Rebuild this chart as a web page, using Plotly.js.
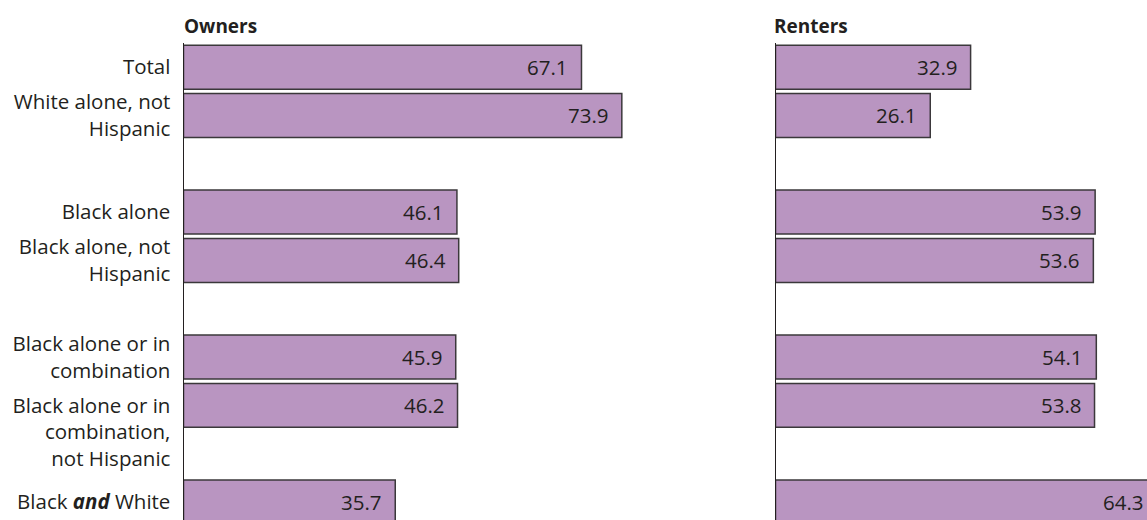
<!DOCTYPE html>
<html>
<head>
<meta charset="utf-8">
<script src="https://cdn.plot.ly/plotly-3.0.1.min.js"></script>
<style>
  html, body { margin: 0; padding: 0; overflow: hidden; background: #fff; }
  #chart { width: 1170px; height: 540px; }
</style>
</head>
<body>
<div id="chart"></div>
<script>
// ---- Data ----
const categories = [
  "Total",
  "White alone, not Hispanic",
  "Black alone",
  "Black alone, not Hispanic",
  "Black alone or in combination",
  "Black alone or in combination, not Hispanic",
  "Black and White"
];
const tickLabels = [
  "Total",
  "White alone, not<br>Hispanic",
  "Black alone",
  "Black alone, not<br>Hispanic",
  "Black alone or in<br>combination",
  "<br><br>Black alone or in<br>combination,<br>not Hispanic",
  "Black <b><i>and</i></b> White"
];
const groups = [[0, 1], [2, 3], [4, 5], [6]];
const owners  = [67.1, 73.9, 46.1, 46.4, 45.9, 46.2, 35.7];
const renters = [32.9, 26.1, 53.9, 53.6, 54.1, 53.8, 64.3];
const panelTitles = ["Owners", "Renters"];

// ---- Build category order with blank spacer rows between groups ----
const order = [];
groups.forEach((g, gi) => {
  g.forEach(i => order.push(categories[i]));
  if (gi < groups.length - 1) order.push(" ".repeat(gi + 1));
});

const FONT = "Open Sans, Noto Sans, sans-serif";
const TXT = "#231f20";
const BAR = "#b995c1";
const EDGE = "#3b383b";
const LABEL_SIZE = 20.5;
const VALUE_SIZE = 20.5;

function barTrace(vals, xa, ya) {
  return {
    type: "bar", orientation: "h",
    x: vals, y: categories,
    xaxis: xa, yaxis: ya,
    width: 0.91,
    marker: { color: BAR, line: { color: EDGE, width: 1.5 } },
    hoverinfo: "x+y",
    showlegend: false
  };
}

const data = [barTrace(owners, "x", "y"), barTrace(renters, "x2", "y2")];

const annotations = [];
[[owners, "x", "y"], [renters, "x2", "y2"]].forEach(([vals, xr, yr]) => {
  vals.forEach((v, i) => annotations.push({
    x: v, y: categories[i], xref: xr, yref: yr,
    text: v.toFixed(1), showarrow: false, xanchor: "right", yanchor: "middle",
    xshift: -11, font: { family: FONT, size: VALUE_SIZE, color: TXT }
  }));
});
panelTitles.forEach((t, i) => annotations.push({
  x: 0, xref: i === 0 ? "x domain" : "x2 domain", xanchor: "left", xshift: i === 0 ? -2 : -4,
  y: 1.035, yref: "paper", yanchor: "middle",
  text: "<b>" + t + "</b>", showarrow: false,
  font: { family: FONT, size: 19, color: TXT }
}));

const W = 1170;
const yCommon = {
  type: "category",
  categoryorder: "array",
  categoryarray: order,
  range: [9.6, -0.5],
  autorange: false,
  showgrid: false, zeroline: false,
  showline: true, linecolor: TXT, linewidth: 1,
  ticks: "", fixedrange: true
};

const layout = {
  width: W, height: 540,
  margin: { l: 0, r: 0, t: 43, b: 9 },
  paper_bgcolor: "#fff", plot_bgcolor: "#fff",
  font: { family: FONT, size: LABEL_SIZE, color: TXT },
  showlegend: false,
  bargap: 0,
  xaxis: {
    domain: [183.5 / W, 658 / W], range: [0, 80],
    showgrid: false, zeroline: false, showline: false, showticklabels: false, ticks: "", fixedrange: true
  },
  xaxis2: {
    domain: [775.5 / W, 1], range: [0, (W - 775.5) / 5.93],
    showgrid: false, zeroline: false, showline: false, showticklabels: false, ticks: "", fixedrange: true
  },
  yaxis: Object.assign({}, yCommon, {
    anchor: "x",
    tickmode: "array", tickvals: categories, ticktext: tickLabels,
    tickfont: { family: FONT, size: LABEL_SIZE, color: TXT },
    ticklabelstandoff: 8
  }),
  yaxis2: Object.assign({}, yCommon, {
    anchor: "x2", matches: "y", showticklabels: false
  }),
  annotations: annotations
};

Plotly.newPlot("chart", data, layout, { displayModeBar: false, staticPlot: true });
</script>
</body>
</html>
